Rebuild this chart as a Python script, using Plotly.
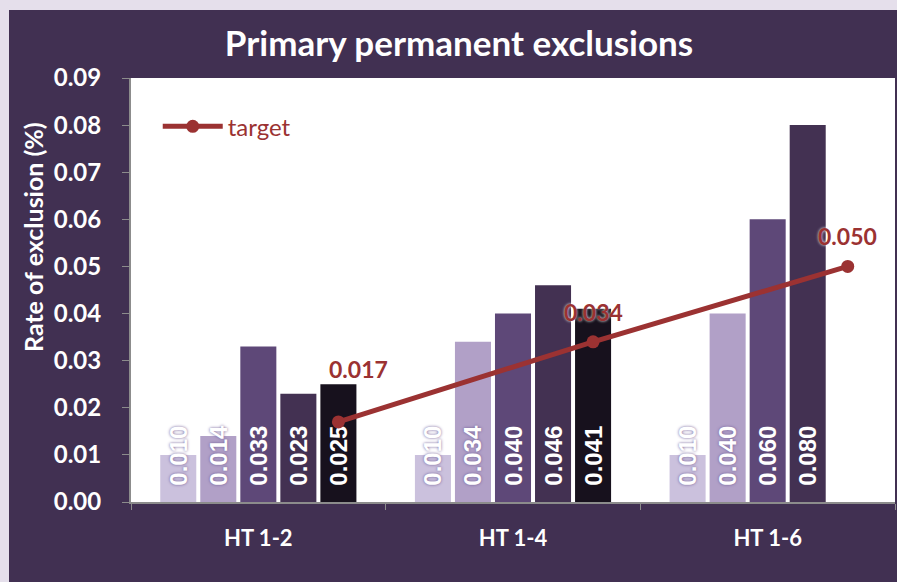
import plotly.graph_objects as go

# ---------------- data ----------------
categories = ["HT 1-2", "HT 1-4", "HT 1-6"]
series1 = [0.010, 0.010, 0.010]
series2 = [0.014, 0.034, 0.040]
series3 = [0.033, 0.040, 0.060]
series4 = [0.023, 0.046, 0.080]
series5 = [0.025, 0.041, None]
target = [0.017, 0.034, 0.050]
y_ticks = [0.00, 0.01, 0.02, 0.03, 0.04, 0.05, 0.06, 0.07, 0.08, 0.09]

# ---------------- style ----------------
W, H = 897, 582
ML, MR, MT, MB = 131, 2, 78, 80
PANEL = "#413052"
FRAME = "#e5dfeb"
RED = "#9b3232"
bar_colors = ["#cbc1dd", "#b1a0c7", "#5e4878", "#433152", "#17111d"]
bar_shadows = ["0px 0px 3px #6f5c96", "0px 0px 3px #6f5c96", "none", "none", "none"]
BARGAP = 0.214
GROUPGAP = 0.1
N_SLOTS = 5
FONT = "Lato"
PAD = "\u00a0\u00a0"

label_xshift = [20, 0, 0]
label_yshift = [53, 30, 30]

fig = go.Figure()

all_series = [series1, series2, series3, series4, series5]
for i, s in enumerate(all_series):
    fig.add_trace(go.Bar(
        x=categories, y=s,
        name=f"s{i+1}", showlegend=False,
        marker=dict(color=bar_colors[i], line=dict(width=0)),
        text=["" if v is None else PAD + f"{v:.3f}" for v in s],
        textposition="inside", insidetextanchor="start",
        textangle=-90, constraintext="none",
        textfont=dict(family="Liberation Sans", size=24, color="white",
                      weight="bold", shadow=bar_shadows[i]),
        hoverinfo="skip",
    ))

# target line aligned with the 5th bar slot of each group
slot = (1 - BARGAP) / N_SLOTS
offset = slot * (N_SLOTS - 1) / 2
tx = [i + offset for i in range(len(categories))]

fig.add_trace(go.Scatter(
    x=tx, y=target, xaxis="x2", yaxis="y",
    mode="lines+markers", name="target",
    line=dict(color=RED, width=5),
    marker=dict(color=RED, size=13),
))

for i, v in enumerate(target):
    fig.add_annotation(
        x=tx[i], y=v, xref="x2", yref="y", text=f"{v:.3f}",
        showarrow=False, xshift=label_xshift[i], yshift=label_yshift[i],
        font=dict(family=FONT, size=23, color=RED, weight="bold",
                  shadow="0px 0px 3px white"),
    )

def px_x(p):
    return (p - ML) / (W - ML - MR)

def px_y(p):
    return (H - MB - p) / (H - MT - MB)

# y-axis title (placed like the original, above the vertical centre)
fig.add_annotation(
    x=px_x(33), y=px_y(237), xref="paper", yref="paper",
    text="<b>Rate of exclusion (%)</b>", textangle=-90, showarrow=False,
    xanchor="center", yanchor="middle",
    font=dict(family=FONT, size=25, color="white"),
)

shapes = [
    dict(type="rect", xref="paper", yref="paper",
         x0=px_x(0), x1=px_x(9), y0=px_y(H), y1=px_y(0),
         fillcolor=FRAME, line=dict(width=0), layer="above"),
    dict(type="rect", xref="paper", yref="paper",
         x0=px_x(0), x1=px_x(W), y0=px_y(10), y1=px_y(0),
         fillcolor=FRAME, line=dict(width=0), layer="above"),
]

fig.update_layout(
    width=W, height=H,
    margin=dict(l=ML, r=MR, t=MT, b=MB, autoexpand=False),
    paper_bgcolor=PANEL, plot_bgcolor="white",
    barmode="group", bargap=BARGAP, bargroupgap=GROUPGAP,
    shapes=shapes,
    title=dict(text="<b>Primary permanent exclusions</b>",
               font=dict(family=FONT, size=35, color="white"),
               x=459 / W, xref="container", xanchor="center",
               y=1 - 44 / H, yref="container", yanchor="middle"),
    xaxis=dict(
        type="category", range=[-0.5, 2.5], automargin=False,
        showline=True, linecolor="#8c8c8c", linewidth=2,
        ticks="outside", tickson="boundaries", ticklen=6,
        tickcolor="#8c8c8c", tickwidth=1,
        tickfont=dict(family=FONT, size=22, color="white", weight="bold"),
        ticklabelstandoff=16, showgrid=False, zeroline=False,
    ),
    xaxis2=dict(overlaying="x", range=[-0.5, 2.5], visible=False),
    yaxis=dict(
        range=[0, 0.09], tickvals=y_ticks, tickformat=".2f", automargin=False,
        showline=True, linecolor="#8c8c8c", linewidth=2,
        ticks="outside", ticklen=7, tickcolor="#8c8c8c", tickwidth=1,
        tickfont=dict(family=FONT, size=24, color="white", weight="bold"),
        ticklabelstandoff=16,
        showgrid=False, zeroline=False,
    ),
    legend=dict(x=0.035, y=0.885, xanchor="left", yanchor="middle",
                bgcolor="rgba(0,0,0,0)", itemwidth=60,
                font=dict(family=FONT, size=24, color=RED)),
)

fig.write_html(
    "out.html",
    config={"displayModeBar": False},
    post_script="document.body.style.margin='0';"
                "document.body.style.background='#e5dfeb';"
                "document.documentElement.style.overflow='hidden';",
)
